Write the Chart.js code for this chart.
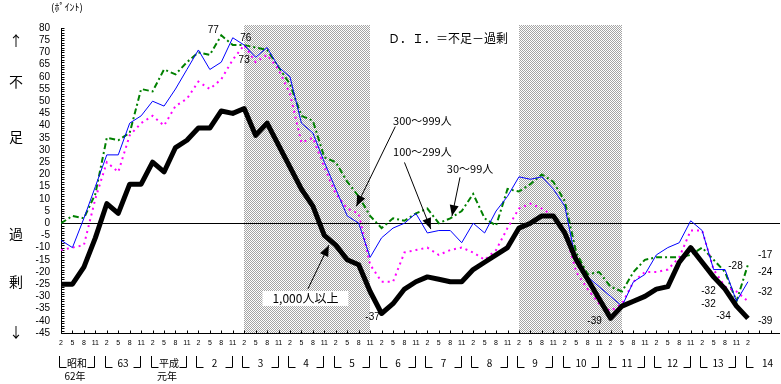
<!DOCTYPE html>
<html>
<head>
<meta charset="utf-8">
<script src="https://cdn.jsdelivr.net/npm/chart.js@4.4.0/dist/chart.umd.min.js"></script>
<style>
	html, body { margin: 0; padding: 0; background: #fff; }
</style>
</head>
<body>
<canvas id="diChart" width="781" height="384"></canvas>
<script>
// quarter labels under the x axis, year brackets below them
const quarterLabels = ['2', '5', '8', '11'];
const yearLabels = ['昭和', '63', '平成', '2', '3', '4', '5', '6', '7', '8', '9', '10', '11', '12', '13', '14'];
const yearSubLabels = ['62年', '', '元年'];
const shadedQuarters = [[16, 27], [40, 49]]; // grey bands (quarter index from/to)

// D.I. values, one per quarter from 昭和62年2月 to 平成14年2月
const over1000 = [-25, -25, -18, -6, 8, 4, 16, 16, 25, 21, 31, 34, 39, 39, 46, 45, 47, 36, 41, 32,
	23, 14, 7, -5, -9, -15, -17, -28, -37, -33, -27, -24, -22, -23, -24, -24, -19, -16, -13, -10,
	-2, 0, 3, 3, -4, -15, -23, -31, -39, -34, -32, -30, -27, -26, -16, -10, -16, -22, -27, -34, -39];
const from300 = [-11, -10, -9, 10, 25, 21, 36, 41, 44, 40, 48, 51, 58, 55, 59, 67, 73, 66, 69, 63,
	53, 33, 35, 23, 12, 6, 4, -17, -24, -24, -12, -11, -10, -13, -11, -10, -12, -15, -11, -2,
	6, 8, 6, 3, -3, -20, -27, -33, -36, -33, -24, -20, -20, -19, -14, -3, -3, -19, -26, -28, -32];
const from100 = [-7, -10, 2, 15, 28, 28, 41, 44, 50, 48, 55, 63, 71, 63, 66, 76, 73, 68, 72, 64,
	60, 41, 37, 25, 14, 3, 0, -14, -6, -2, 0, 4, -4, -3, -3, -8, 0, -4, 5, 11,
	19, 18, 19, 14, 7, -16, -22, -26, -30, -34, -24, -21, -13, -10, -8, 1, -3, -19, -19, -32, -24];
const from30 = [0, 3, 2, 12, 35, 34, 37, 55, 54, 63, 61, 66, 70, 69, 77, 73, 73, 72, 71, 64,
	57, 44, 42, 27, 25, 17, 11, 3, -2, 2, 1, 4, 6, 0, 2, 5, 12, 2, -1, 14,
	13, 16, 20, 17, 9, -12, -21, -20, -26, -28, -20, -15, -14, -14, -14, -13, -10, -15, -20, -32, -17];

const toPoints = (arr) => arr.map((v, i) => ({ x: i, y: v }));

// checker pattern for the shaded periods
const patCanvas = document.createElement('canvas');
patCanvas.width = 2;
patCanvas.height = 2;
const pctx = patCanvas.getContext('2d');
pctx.fillStyle = '#fff';
pctx.fillRect(0, 0, 2, 2);
pctx.fillStyle = '#a4a4a4';
pctx.fillRect(0, 0, 1, 1);
pctx.fillRect(1, 1, 1, 1);

const jp = '"Noto Sans CJK JP", sans-serif';
const num = '"Liberation Sans", Arial, sans-serif';

function drawArrow(ctx, x0, y0, x1, y1) {
	ctx.beginPath();
	ctx.moveTo(x0, y0);
	ctx.lineTo(x1, y1);
	ctx.stroke();
	const a = Math.atan2(y1 - y0, x1 - x0);
	const len = 11, half = 4.5;
	ctx.beginPath();
	ctx.moveTo(x1, y1);
	ctx.lineTo(x1 - len * Math.cos(a) + half * Math.sin(a), y1 - len * Math.sin(a) - half * Math.cos(a));
	ctx.lineTo(x1 - len * Math.cos(a) - half * Math.sin(a), y1 - len * Math.sin(a) + half * Math.cos(a));
	ctx.closePath();
	ctx.fill();
}

// series name labels with arrows (positions in quarter / D.I. units)
const seriesNotes = [
	{ text: '300～999人', at: [29.0, 42], from: [29.2, 39.6], to: [25.8, 6.9] },
	{ text: '100～299人', at: [29.0, 29.4], from: [30.0, 24.9], to: [32.3, -2.4] },
	{ text: '30～99人', at: [33.7, 22.4], from: [34.85, 18.8], to: [34.15, 2.9] },
];

// value labels: [dataset index, quarter, dx, dy, align]
const valueNotes = [
	[3, 14, -8, -5, 'center'],
	[1, 15, 13, 0, 'center'],
	[2, 16, 0, 15, 'center'],
	[0, 28, -9, 4, 'center'],
	[0, 48, -16, 3, 'center'],
	[3, 60, 10, -9, 'left'],
	[1, 60, 10, -10, 'left'],
	[2, 60, 10, -9, 'left'],
	[0, 60, 10, 3, 'left'],
	[2, 59, -1, -25, 'center'],
	[1, 59, -28, -10, 'center'],
	[3, 59, -28, 3, 'center'],
	[0, 59, -13, 10, 'center'],
];

const decor = {
	id: 'decor',
	beforeDatasetsDraw(chart) {
		const { ctx, chartArea: area, scales: { x, y } } = chart;
		ctx.save();
		ctx.fillStyle = ctx.createPattern(patCanvas, 'repeat');
		shadedQuarters.forEach(([s, e]) => {
			const x0 = Math.round(x.getPixelForValue(s));
			const x1 = Math.round(x.getPixelForValue(e));
			ctx.fillRect(x0, area.top - 3, x1 - x0, area.bottom - area.top + 3);
		});

		ctx.strokeStyle = '#000';
		ctx.lineWidth = 1;
		const left = Math.round(area.left) + 0.5;
		const bottom = Math.round(area.bottom) + 0.5;
		const zero = Math.round(y.getPixelForValue(0)) + 0.5;
		ctx.beginPath();
		ctx.moveTo(left, zero);
		ctx.lineTo(area.right, zero);
		ctx.moveTo(left, area.top);
		ctx.lineTo(left, bottom);
		ctx.lineTo(area.right, bottom);
		// small inward ticks
		for (let v = -45; v <= 80; v++) {
			const py = Math.round(y.getPixelForValue(v)) + 0.5;
			ctx.moveTo(left, py);
			ctx.lineTo(left + 3, py);
		}
		for (let q = 0; q <= 62; q++) {
			const px = Math.round(x.getPixelForValue(q)) + 0.5;
			ctx.moveTo(px, bottom);
			ctx.lineTo(px, bottom - 3);
		}
		ctx.stroke();
		ctx.restore();
	},
	afterDatasetsDraw(chart) {
		const { ctx, scales: { x, y } } = chart;
		ctx.save();
		ctx.fillStyle = '#000';
		ctx.strokeStyle = '#000';
		ctx.lineWidth = 1;
		ctx.textBaseline = 'middle';

		// series notes
		ctx.font = '11px ' + jp;
		ctx.textAlign = 'left';
		seriesNotes.forEach((n) => {
			ctx.fillText(n.text, x.getPixelForValue(n.at[0]), y.getPixelForValue(n.at[1]));
			drawArrow(ctx, x.getPixelForValue(n.from[0]), y.getPixelForValue(n.from[1]),
				x.getPixelForValue(n.to[0]), y.getPixelForValue(n.to[1]));
		});

		// 1,000人以上 in a white box
		const bx0 = x.getPixelForValue(17.6), bx1 = x.getPixelForValue(25.1);
		const by0 = y.getPixelForValue(-27.8), by1 = y.getPixelForValue(-33.9);
		ctx.fillStyle = '#fff';
		ctx.fillRect(bx0, by0, bx1 - bx0, by1 - by0);
		ctx.fillStyle = '#000';
		ctx.font = '12px ' + jp;
		ctx.textAlign = 'center';
		ctx.fillText('1,000人以上', (bx0 + bx1) / 2, (by0 + by1) / 2);
		drawArrow(ctx, x.getPixelForValue(21.57), y.getPixelForValue(-26.9),
			x.getPixelForValue(23.4), y.getPixelForValue(-9));

		// value labels
		ctx.font = '10px ' + num;
		valueNotes.forEach(([ds, q, dx, dy, align]) => {
			const v = chart.data.datasets[ds].data[q].y;
			ctx.textAlign = align;
			ctx.fillText(String(v), x.getPixelForValue(q) + dx, y.getPixelForValue(v) + dy);
		});
		ctx.restore();
	},
	afterDraw(chart) {
		const { ctx, scales: { x, y } } = chart;
		ctx.save();
		ctx.fillStyle = '#000';
		ctx.strokeStyle = '#000';
		ctx.lineWidth = 1;
		ctx.textBaseline = 'middle';
		ctx.textAlign = 'center';

		// year brackets
		ctx.font = '10px ' + jp;
		yearLabels.forEach((label, k) => {
			const xs = Math.round(x.getPixelForValue(4 * k)) - 1.5;
			const xe = Math.round(x.getPixelForValue(4 * k + 3)) - 0.5;
			ctx.beginPath();
			ctx.moveTo(xs, 356);
			ctx.lineTo(xs, 367.5);
			ctx.lineTo(xs + 7, 367.5);
			if (k < yearLabels.length - 1) {
				ctx.moveTo(xe, 356);
				ctx.lineTo(xe, 367.5);
				ctx.lineTo(xe - 7, 367.5);
			}
			ctx.stroke();
			const cx = k < yearLabels.length - 1 ? (xs + xe) / 2 : xs + 21;
			ctx.fillText(label, cx, 363);
			if (yearSubLabels[k]) ctx.fillText(yearSubLabels[k], cx - 2, 376);
		});

		// vertical side caption
		ctx.font = '14px ' + jp;
		[['↑', 75], ['不', 58], ['足', 35.5], ['過', -4.5], ['剰', -24], ['↓', -44.5]].forEach(([t, v]) => {
			ctx.fillText(t, 16, y.getPixelForValue(v));
		});

		ctx.font = '10px ' + jp;
		ctx.fillText('(ﾎﾟｲﾝﾄ)', 67, 7);

		ctx.font = '12px ' + jp;
		ctx.textAlign = 'left';
		ctx.fillText('Ｄ．Ｉ．＝不足－過剰', 388, 38);
		ctx.restore();
	},
};

const diChart = new Chart(document.getElementById('diChart'), {
	type: 'line',
	data: {
		datasets: [
			{
				label: '1,000人以上',
				data: toPoints(over1000),
				borderColor: '#000',
				borderWidth: 5,
				borderJoinStyle: 'round',
			},
			{
				label: '100～299人',
				data: toPoints(from100),
				borderColor: '#0000ff',
				borderWidth: 1,
			},
			{
				label: '300～999人',
				data: toPoints(from300),
				borderColor: '#ff00ff',
				borderWidth: 2,
				borderDash: [2, 4],
			},
			{
				label: '30～99人',
				data: toPoints(from30),
				borderColor: '#008000',
				borderWidth: 2,
				borderDash: [6, 3, 2, 3],
			},
		],
	},
	options: {
		responsive: false,
		animation: false,
		layout: { padding: { top: 28, right: 1, bottom: 0, left: 0 } },
		elements: { point: { radius: 0 }, line: { tension: 0 } },
		plugins: { legend: { display: false }, tooltip: { enabled: false } },
		scales: {
			x: {
				type: 'linear',
				min: 0,
				max: 62.8,
				grid: { display: false, drawTicks: false },
				border: { display: false },
				afterBuildTicks: (scale) => {
					scale.ticks = over1000.map((_, i) => ({ value: i }));
				},
				afterFit: (scale) => {
					scale.height = 51;
				},
				ticks: {
					autoSkip: false,
					maxRotation: 0,
					padding: 6,
					color: '#000',
					font: { size: 7, family: num },
					callback: (v) => quarterLabels[v % 4],
				},
			},
			y: {
				min: -45,
				max: 80,
				grid: { display: false, drawTicks: false },
				border: { display: false },
				afterFit: (scale) => {
					scale.width = 61;
				},
				ticks: {
					stepSize: 5,
					autoSkip: false,
					padding: 11,
					color: '#000',
					font: { size: 10, family: num },
				},
			},
		},
	},
	plugins: [decor],
});
</script>
</body>
</html>
